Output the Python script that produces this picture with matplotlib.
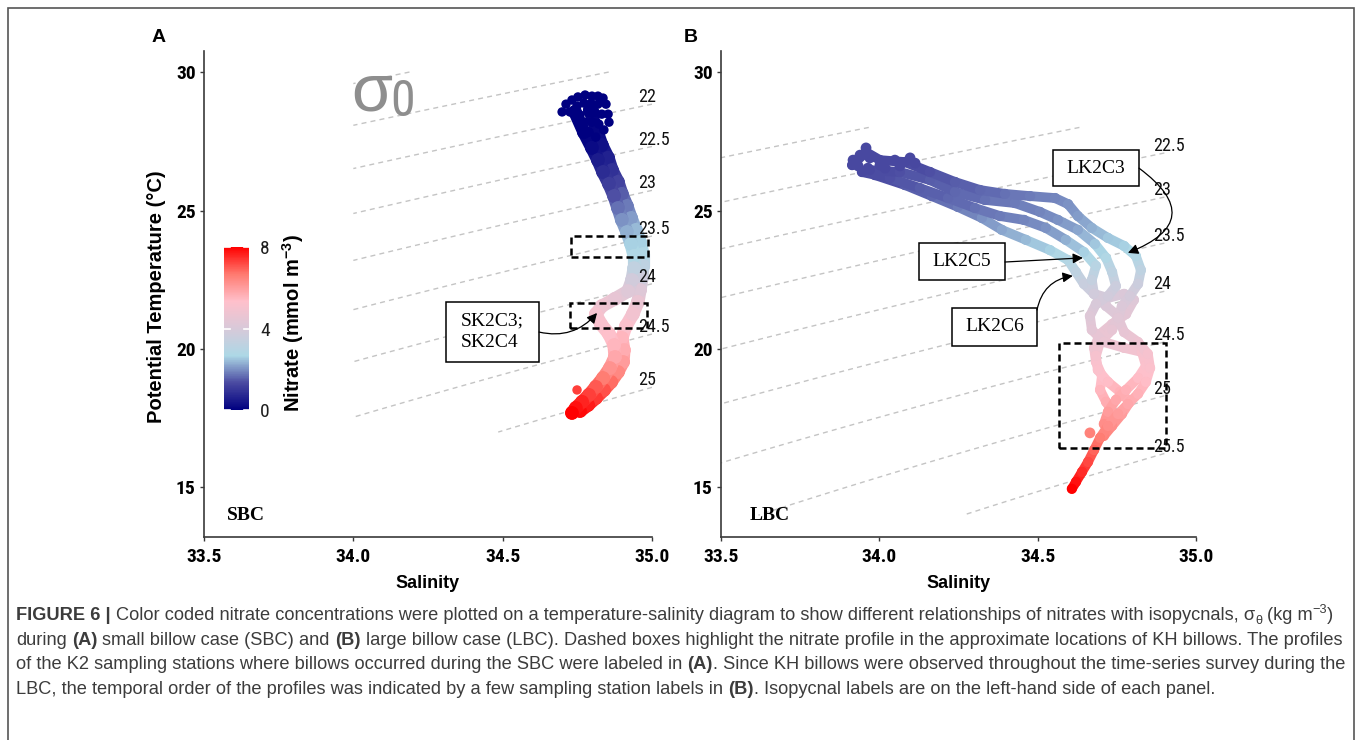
import numpy as np
import matplotlib
matplotlib.use("Agg")
import matplotlib.pyplot as plt
from matplotlib import font_manager as fm
from matplotlib.colors import LinearSegmentedColormap, Normalize
from matplotlib.collections import LineCollection
from matplotlib.patches import Rectangle, FancyArrowPatch
from matplotlib.cm import ScalarMappable

# ------------------------------------------------------------------ data
# Panel A (small billow case, SBC): two overlapping CTD casts
a1_sal = [34.742, 34.772, 34.799, 34.819, 34.836, 34.856, 34.873, 34.886, 34.899, 34.916,
          34.930, 34.940, 34.940, 34.933, 34.920, 34.876, 34.832, 34.812, 34.829, 34.856,
          34.873, 34.876, 34.859, 34.836, 34.812, 34.789, 34.766, 34.745, 34.732]
a1_tem = [28.56, 27.83, 27.26, 26.82, 26.39, 25.96, 25.52, 25.09, 24.66, 24.22,
          23.79, 23.36, 22.92, 22.49, 22.09, 21.81, 21.55, 21.26, 20.90, 20.54,
          20.14, 19.71, 19.31, 18.95, 18.63, 18.34, 18.09, 17.87, 17.69]
a1_no3 = [0.0, 0.0, 0.2, 0.5, 0.8, 1.1, 1.4, 1.7, 2.0, 2.3,
          2.6, 2.8, 3.3, 3.8, 4.2, 4.5, 4.8, 5.0, 5.1, 5.3,
          5.5, 5.8, 6.2, 6.6, 7.0, 7.3, 7.6, 7.8, 8.0]

a2_sal = [34.792, 34.812, 34.832, 34.853, 34.866, 34.886, 34.899, 34.916, 34.930, 34.946,
          34.960, 34.970, 34.970, 34.966, 34.960, 34.953, 34.936, 34.913, 34.899, 34.906,
          34.903, 34.886, 34.863, 34.839, 34.812, 34.786, 34.759]
a2_tem = [28.63, 27.98, 27.36, 26.90, 26.46, 26.03, 25.60, 25.16, 24.73, 24.30,
          23.86, 23.43, 23.00, 22.56, 22.13, 21.70, 21.26, 20.83, 20.40, 19.96,
          19.53, 19.17, 18.81, 18.52, 18.23, 17.98, 17.76]
a2_no3 = [0.0, 0.1, 0.3, 0.6, 0.9, 1.2, 1.5, 1.8, 2.1, 2.4,
          2.6, 2.8, 3.2, 3.7, 4.2, 4.6, 4.9, 5.2, 5.5, 5.7,
          6.0, 6.4, 6.8, 7.1, 7.4, 7.7, 7.9]

# loose surface points of panel A
a_dot_sal = [34.699, 34.712, 34.732, 34.752, 34.776, 34.799, 34.819, 34.836, 34.846, 34.853,
             34.856, 34.839, 34.725, 34.749, 34.772, 34.796, 34.819, 34.759, 34.786, 34.809,
             34.832, 34.772, 34.799, 34.822, 34.789, 34.812, 34.749]
a_dot_tem = [28.56, 28.84, 28.99, 29.10, 29.17, 29.13, 29.13, 29.06, 28.84, 28.48,
             28.19, 27.91, 28.56, 28.77, 28.88, 28.88, 28.84, 28.45, 28.56, 28.56,
             28.48, 28.19, 28.19, 28.12, 27.83, 27.65, 18.52]
a_dot_no3 = [0.0, 0.0, 0.0, 0.0, 0.0, 0.0, 0.0, 0.0, 0.0, 0.0,
             0.0, 0.0, 0.0, 0.0, 0.0, 0.0, 0.0, 0.0, 0.0, 0.0,
             0.0, 0.0, 0.0, 0.0, 0.0, 0.0, 7.3]

# Panel B (large billow case, LBC): four casts
b1_sal = [33.914, 33.958, 34.002, 34.081, 34.160, 34.239, 34.318, 34.397, 34.476, 34.555,
          34.596, 34.627, 34.671, 34.722, 34.773, 34.810, 34.826, 34.817, 34.791, 34.766,
          34.754, 34.773, 34.817, 34.848, 34.855, 34.842, 34.817, 34.785, 34.754, 34.722,
          34.697, 34.678, 34.659, 34.640, 34.621, 34.608]
b1_tem = [26.64, 27.11, 26.82, 26.75, 26.39, 26.03, 25.74, 25.60, 25.52, 25.45,
          25.23, 24.80, 24.37, 24.01, 23.72, 23.36, 22.85, 22.35, 21.91, 21.55,
          21.12, 20.61, 20.25, 19.82, 19.31, 18.81, 18.38, 18.01, 17.65, 17.22,
          16.79, 16.35, 15.92, 15.56, 15.20, 14.95]
b1_no3 = [1.3, 1.3, 1.3, 1.3, 1.4, 1.5, 1.6, 1.7, 1.8, 1.9,
          2.0, 2.1, 2.3, 2.5, 2.6, 2.8, 3.2, 3.6, 3.9, 4.1,
          4.3, 4.5, 4.7, 5.0, 5.2, 5.4, 5.6, 5.8, 6.0, 6.3,
          6.6, 6.9, 7.2, 7.5, 7.8, 8.0]

b2_sal = [33.970, 34.065, 34.160, 34.239, 34.334, 34.428, 34.507, 34.564, 34.627, 34.681,
          34.716, 34.735, 34.747, 34.722, 34.684, 34.665, 34.671, 34.709, 34.773, 34.829,
          34.842, 34.817, 34.779, 34.747, 34.722, 34.709]
b2_tem = [26.46, 26.39, 26.10, 25.67, 25.38, 25.27, 24.95, 24.66, 24.30, 23.79,
          23.29, 22.78, 22.27, 21.91, 21.62, 21.19, 20.69, 20.25, 20.04, 19.89,
          19.39, 18.95, 18.52, 18.16, 17.73, 17.29]
b2_no3 = [1.3, 1.4, 1.5, 1.6, 1.7, 1.8, 1.9, 2.0, 2.2, 2.5,
          2.8, 3.2, 3.6, 3.8, 4.0, 4.2, 4.4, 4.6, 4.8, 5.0,
          5.2, 5.4, 5.6, 5.8, 6.0, 6.3]

b3_sal = [33.945, 34.034, 34.128, 34.217, 34.302, 34.381, 34.457, 34.526, 34.589, 34.646,
          34.684, 34.671, 34.678, 34.716, 34.754, 34.735, 34.697, 34.684, 34.690, 34.722,
          34.760, 34.791, 34.766, 34.735, 34.709]
b3_tem = [26.39, 26.17, 25.81, 25.45, 25.09, 24.80, 24.66, 24.37, 23.94, 23.50,
          23.00, 22.49, 21.99, 21.55, 21.19, 20.69, 20.25, 19.75, 19.24, 18.81,
          18.45, 18.09, 17.65, 17.22, 16.86]
b3_no3 = [1.3, 1.4, 1.5, 1.6, 1.7, 1.8, 1.9, 2.0, 2.3, 2.6,
          3.0, 3.4, 3.8, 4.1, 4.3, 4.5, 4.7, 5.0, 5.2, 5.4,
          5.6, 5.7, 6.0, 6.3, 6.5]

b4_sal = [33.986, 34.081, 34.166, 34.248, 34.324, 34.387, 34.463, 34.539, 34.596, 34.621,
          34.646, 34.678, 34.722, 34.773, 34.804, 34.779, 34.735, 34.697, 34.678, 34.684,
          34.703, 34.697, 34.716, 34.741]
b4_tem = [26.28, 25.92, 25.52, 25.13, 24.73, 24.30, 23.94, 23.57, 23.21, 22.78,
          22.35, 21.99, 21.84, 21.99, 21.77, 21.26, 20.90, 20.54, 20.04, 19.53,
          19.03, 18.52, 18.09, 17.65]
b4_no3 = [1.3, 1.5, 1.6, 1.8, 2.0, 2.2, 2.4, 2.6, 2.9, 3.2,
          3.5, 3.8, 4.0, 4.1, 4.2, 4.4, 4.5, 4.6, 4.8, 5.1,
          5.3, 5.5, 5.7, 5.9]

b_dot_sal = [33.917, 33.933, 33.939, 33.958, 33.970, 34.002, 34.049, 34.097, 34.113, 34.065,
             34.018, 33.964, 34.665]
b_dot_tem = [26.82, 26.61, 27.00, 27.26, 26.90, 26.64, 26.82, 26.90, 26.71, 26.61,
             26.53, 26.53, 16.97]
b_dot_no3 = [1.3, 1.3, 1.3, 1.3, 1.3, 1.3, 1.3, 1.3, 1.3, 1.3,
             1.3, 1.3, 6.5]

# isopycnal (sigma-0) levels, the T-S range they are drawn over, labelled levels
a_sigma_levels = [21.0, 21.5, 22.0, 22.5, 23.0, 23.5, 24.0, 24.5, 25.0, 25.5]
a_sigma_labels = [22.0, 22.5, 23.0, 23.5, 24.0, 24.5, 25.0]
a_grid_sal = [34.0, 35.0]
a_grid_tem = [17.0, 30.0]
b_sigma_levels = [21.0, 21.5, 22.0, 22.5, 23.0, 23.5, 24.0, 24.5, 25.0, 25.5, 26.0]
b_sigma_labels = [22.5, 23.0, 23.5, 24.0, 24.5, 25.0, 25.5]
b_grid_sal = [33.5, 34.9]
b_grid_tem = [14.0, 28.0]
sigma_shift = 0.12   # difference between the figure's density routine and UNESCO-80

sal_ticks = [33.5, 34.0, 34.5, 35.0]
sal_tick_labels = ["33.5", "34.0", "34.5", "35.0"]
tem_ticks = [15, 20, 25, 30]
tem_tick_labels = ["15", "20", "25", "30"]
no3_ticks = [0, 4, 8]
no3_tick_labels = ["0", "4", "8"]

# ------------------------------------------------------------------ setup
W, H, DPI = 1357, 740, 100
installed = {f.name for f in fm.fontManager.ttflist}
SANS = "Liberation Sans"
SERIF = "Liberation Serif"
NARROW = SANS
for cand in ["Liberation Sans Narrow", "Roboto Condensed", "Arial Narrow", "DejaVu Sans Condensed",
             "Open Sans Condensed"]:
    if cand in installed:
        NARROW = cand
        break
TICK_SIZE = 14 if NARROW != SANS else 13

plt.rcParams["font.family"] = [SANS, "DejaVu Sans"]
plt.rcParams["mathtext.fontset"] = "custom"
plt.rcParams["mathtext.rm"] = SANS
plt.rcParams["mathtext.bf"] = SANS + ":bold"
plt.rcParams["mathtext.it"] = SANS + ":italic"
plt.rcParams["lines.dashed_pattern"] = [3.6, 3.0]


def fx(px):
    return px / W


def fy(py):
    return 1 - py / H


fig = plt.figure(figsize=(W / DPI, H / DPI), dpi=DPI)
fig.patch.set_facecolor("white")

no3_cmap = LinearSegmentedColormap.from_list("no3", [
    (0.0, "#000080"), (1.33 / 8, "#4a4aa1"), (2.67 / 8, "#add8e6"),
    (4.0 / 8, "#d8c9d9"), (5.33 / 8, "#ffc0cb"), (6.67 / 8, "#ff7a70"), (1.0, "#ff0000")])
no3_norm = Normalize(0, 8)


def sigma0(S, T):
    rw = (999.842594 + 6.793952e-2 * T - 9.095290e-3 * T ** 2 + 1.001685e-4 * T ** 3
          - 1.120083e-6 * T ** 4 + 6.536332e-9 * T ** 5)
    A = 8.24493e-1 - 4.0899e-3 * T + 7.6438e-5 * T ** 2 - 8.2467e-7 * T ** 3 + 5.3875e-9 * T ** 4
    B = -5.72466e-3 + 1.0227e-4 * T - 1.6546e-6 * T ** 2
    C = 4.8314e-4
    return rw + A * S + B * S ** 1.5 + C * S ** 2 - 1000.0 - sigma_shift


AX_TOP, AX_BOT = 51, 537
T_LO, T_HI = 13.21, 30.76
SPINE = "#3a3a3a"


def make_axes(px_l, px_r):
    ax = fig.add_axes([fx(px_l), fy(AX_BOT), (px_r - px_l) / W, (AX_BOT - AX_TOP) / H])
    ax.set_xlim(33.5, 35.0)
    ax.set_ylim(T_LO, T_HI)
    for sp in ("top", "right"):
        ax.spines[sp].set_visible(False)
    for sp in ("left", "bottom"):
        ax.spines[sp].set_color(SPINE)
        ax.spines[sp].set_linewidth(1.2)
    ax.set_xticks(sal_ticks, labels=sal_tick_labels, fontfamily=NARROW, fontweight="bold",
                  fontsize=TICK_SIZE)
    ax.set_yticks(tem_ticks, labels=tem_tick_labels, fontfamily=NARROW, fontweight="bold",
                  fontsize=TICK_SIZE)
    ax.tick_params(axis="both", direction="out", length=3, width=1, color=SPINE)
    ax.tick_params(axis="x", pad=5)
    ax.tick_params(axis="y", pad=3)
    ax.set_xlabel("Salinity", fontsize=13, fontweight="bold")
    ax.xaxis.label.set_va("center")
    ax.xaxis.set_label_coords(0.5, -(583 - AX_BOT) / (AX_BOT - AX_TOP))
    return ax


def isopycnals(ax, s_rng, t_rng, levels, lab_levels, s_end, s_lab):
    S = np.linspace(s_rng[0], s_rng[1], 300)
    T = np.linspace(t_rng[0], t_rng[1], 400)
    SS, TT = np.meshgrid(S, T)
    ax.contour(SS, TT, sigma0(SS, TT), levels=levels, colors="#c4c4c4",
               linewidths=1.0, linestyles="dashed", zorder=1)
    Tg = np.linspace(5, 35, 3000)
    sg = sigma0(s_end, Tg)
    for lv in lab_levels:
        tl = np.interp(lv, sg[::-1], Tg[::-1])
        ax.annotate(f"{lv:g}", xy=(s_lab, tl), xytext=(0, 5), textcoords="offset points",
                    ha="left", va="center", fontsize=13, fontfamily=NARROW,
                    color="#111111", zorder=4, annotation_clip=False)


def draw_cast(ax, s, t, n, lw):
    pts = np.column_stack([s, t])
    segs = np.stack([pts[:-1], pts[1:]], axis=1)
    nv = np.asarray(n, dtype=float)
    nmid = (nv[:-1] + nv[1:]) / 2
    lc = LineCollection(segs, colors=no3_cmap(no3_norm(nmid)), linewidths=lw,
                        capstyle="round", joinstyle="round", zorder=3)
    ax.add_collection(lc)
    ax.scatter(s, t, c=nv, cmap=no3_cmap, norm=no3_norm, s=(lw * 1.05) ** 2,
               linewidths=0, zorder=3)


def dashed_box(ax, s0, s1, t0, t1):
    ax.add_patch(Rectangle((s0, t0), s1 - s0, t1 - t0, fill=False, ec="black",
                           lw=1.8, ls=(0, (2.8, 1.6)), zorder=6))


def label_box(ax, s0, s1, t0, t1, text, ts, tt, ha="center"):
    ax.add_patch(Rectangle((s0, t0), s1 - s0, t1 - t0, fc="white", ec="black", lw=1.1, zorder=7))
    ax.text(ts, tt, text, ha=ha, va="center", fontsize=14, fontfamily=SERIF,
            linespacing=1.3, zorder=8)


def arrow(ax, pa, pb, rad):
    ax.add_patch(FancyArrowPatch(pa, pb, arrowstyle="-|>", mutation_scale=15, lw=0.9,
                                 color="black", connectionstyle=f"arc3,rad={rad}",
                                 zorder=8, clip_on=False, shrinkA=0, shrinkB=0))


# ------------------------------------------------------------------ panel A
axA = make_axes(204, 652)
isopycnals(axA, a_grid_sal, a_grid_tem, a_sigma_levels, a_sigma_labels, 35.0, 34.952)
draw_cast(axA, a2_sal, a2_tem, a2_no3, 9.5)
draw_cast(axA, a1_sal, a1_tem, a1_no3, 9.5)
axA.scatter(a_dot_sal, a_dot_tem, c=a_dot_no3, cmap=no3_cmap, norm=no3_norm, s=46,
            linewidths=0, zorder=3)
dashed_box(axA, 34.730, 34.987, 23.33, 24.08)
dashed_box(axA, 34.725, 34.982, 20.75, 21.65)
label_box(axA, 34.310, 34.622, 19.53, 21.70, "SK2C3;\nSK2C4", 34.360, 20.62, ha="left")
arrow(axA, (34.622, 20.61), (34.816, 21.30), 0.3)
axA.text(34.062, 29.24, "σ", fontsize=48, color="#8e8e8e", ha="center", va="center",
         fontfamily=SANS, zorder=2)
axA.text(34.166, 28.92, "0", fontsize=36, color="#8e8e8e", ha="center", va="center",
         fontfamily=NARROW, zorder=2)
axA.text((246 - 204) / 448, (AX_BOT - 515) / (AX_BOT - AX_TOP), "SBC", transform=axA.transAxes,
         ha="center", va="center", fontsize=14, fontweight="bold", fontfamily=SERIF)
axA.set_ylabel("Potential Temperature (°C)", fontsize=14.5, fontweight="bold")
axA.yaxis.label.set_va("center")
axA.yaxis.set_label_coords((157 - 204) / 448, (AX_BOT - 297) / (AX_BOT - AX_TOP))

# ------------------------------------------------------------------ panel B
axB = make_axes(721, 1196)
isopycnals(axB, b_grid_sal, b_grid_tem, b_sigma_levels, b_sigma_labels, 34.9, 34.866)
draw_cast(axB, b4_sal, b4_tem, b4_no3, 7.0)
draw_cast(axB, b3_sal, b3_tem, b3_no3, 7.0)
draw_cast(axB, b2_sal, b2_tem, b2_no3, 7.0)
draw_cast(axB, b1_sal, b1_tem, b1_no3, 7.0)
axB.scatter(b_dot_sal, b_dot_tem, c=b_dot_no3, cmap=no3_cmap, norm=no3_norm, s=60,
            linewidths=0, zorder=3)
dashed_box(axB, 34.568, 34.905, 16.42, 20.21)
label_box(axB, 34.548, 34.820, 25.88, 27.18, "LK2C3", 34.684, 26.53)
arrow(axB, (34.820, 26.53), (34.785, 23.47), -0.9)
label_box(axB, 34.125, 34.397, 22.49, 23.83, "LK2C5", 34.261, 23.16)
arrow(axB, (34.397, 23.14), (34.643, 23.29), 0.0)
label_box(axB, 34.229, 34.498, 20.11, 21.48, "LK2C6", 34.364, 20.80)
arrow(axB, (34.498, 21.41), (34.611, 22.64), -0.35)
axB.text((770 - 721) / 475, (AX_BOT - 515) / (AX_BOT - AX_TOP), "LBC", transform=axB.transAxes,
         ha="center", va="center", fontsize=14, fontweight="bold", fontfamily=SERIF)

# ------------------------------------------------------------------ colour bar
cax = fig.add_axes([fx(224), fy(410), (249 - 224) / W, (410 - 247) / H])
cb = fig.colorbar(ScalarMappable(norm=no3_norm, cmap=no3_cmap), cax=cax)
cb.outline.set_visible(False)
cax.set_yticks(no3_ticks, labels=no3_tick_labels, fontfamily=NARROW, fontsize=14, color="#1e1e1e")
cax.tick_params(length=0, pad=8)
for v in no3_ticks:
    cax.plot([0, 0.22], [v, v], transform=cax.get_yaxis_transform(), color="white", lw=1.2)
    cax.plot([0.78, 1.0], [v, v], transform=cax.get_yaxis_transform(), color="white", lw=1.2)
fig.text(fx(293), fy(323), "Nitrate (mmol m$^{\\mathbf{-3}}$)", rotation=90, ha="center",
         va="center", fontsize=14.5, fontweight="bold")

# panel letters
fig.text(fx(159), fy(38), "A", ha="center", va="center", fontsize=14, fontweight="bold")
fig.text(fx(691), fy(38), "B", ha="center", va="center", fontsize=14, fontweight="bold")

# outer frame
fig.patches.append(Rectangle((fx(8), fy(800)), (1354 - 8) / W, (800 - 8) / H,
                             transform=fig.transFigure, fill=False, ec="#555555", lw=1.2))

# ------------------------------------------------------------------ caption
R = fig.canvas.get_renderer()
CAPF = [SANS, "DejaVu Sans"]
CAPC = "#3c3c3c"


def _w(s, size, weight):
    t = fig.text(0, 0, s, fontsize=size, fontweight=weight, family=CAPF)
    w = t.get_window_extent(renderer=R).width
    t.remove()
    return w


def seg_w(s, size, weight):
    return _w("|" + s + "|", size, weight) - _w("||", size, weight)


def line_w(segs, size):
    tot = 0
    for seg in segs:
        txt, wt = seg[0], seg[1]
        sc = seg[2] if len(seg) > 2 else 1.0
        tot += seg_w(txt, size * sc, wt)
    return tot


def draw_line(segs, x, base, size):
    for seg in segs:
        txt, wt = seg[0], seg[1]
        sc = seg[2] if len(seg) > 2 else 1.0
        dy = seg[3] if len(seg) > 3 else 0
        sz = size * sc
        core = txt.strip()
        lead = txt[:len(txt) - len(txt.lstrip())]
        lw_ = seg_w(lead, sz, wt) if lead else 0
        if core:
            fig.text(fx(x + lw_), fy(base - dy), core, fontsize=sz, fontweight=wt, family=CAPF,
                     color=CAPC, ha="left", va="baseline")
        x += seg_w(txt, sz, wt)


cap_lines = [
    [("FIGURE 6 |", "bold"),
     (" Color coded nitrate concentrations were plotted on a temperature-salinity diagram to show "
      "different relationships of nitrates with isopycnals, σ", "normal"),
     ("θ", "normal", 0.7, -4), (" (kg m", "normal"), ("−3", "normal", 0.7, 7), (")", "normal")],
    [("during ", "normal"), ("(A)", "bold"), (" small billow case (SBC) and ", "normal"), ("(B)", "bold"),
     (" large billow case (LBC). Dashed boxes highlight the nitrate profile in the approximate "
      "locations of KH billows. The profiles", "normal")],
    [("of the K2 sampling stations where billows occurred during the SBC were labeled in ", "normal"),
     ("(A)", "bold"),
     (". Since KH billows were observed throughout the time-series survey during the", "normal")],
    [("LBC, the temporal order of the profiles was indicated by a few sampling station labels in ",
      "normal"), ("(B)", "bold"),
     (". Isopycnal labels are on the left-hand side of each panel.", "normal")],
]
base_size = 12.0
cap_size = base_size * (1340 - 16) / line_w(cap_lines[0], base_size)
for segs, base in zip(cap_lines, [620, 645, 669, 694]):
    draw_line(segs, 16, base, cap_size)

fig.savefig("out.png", dpi=DPI)
